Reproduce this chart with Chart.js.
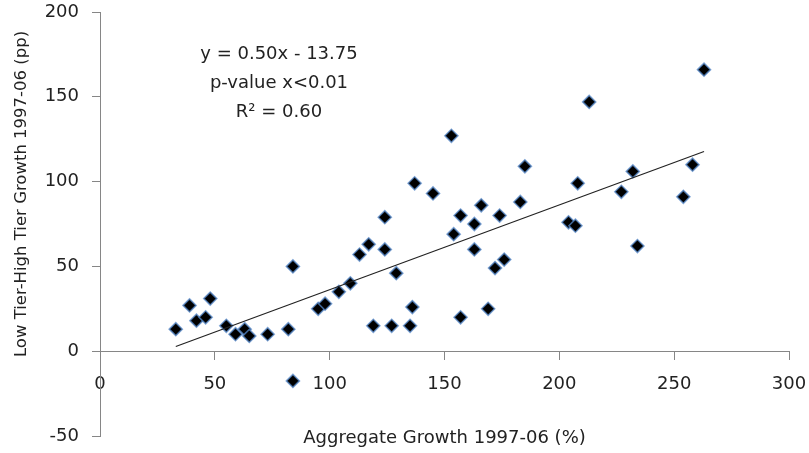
<!DOCTYPE html>
<html><head><meta charset="utf-8">
<script src="https://cdn.jsdelivr.net/npm/chart.js@4/dist/chart.umd.min.js"></script>
<style>html,body{margin:0;padding:0;background:#fff}#wrap{width:809px;height:453px;position:relative}</style>
</head><body><div id="wrap"><canvas id="c"></canvas></div>
<script>
// Aggregate growth 1997-06 (%) for each observation
const aggregateGrowth = [33, 39, 42, 46, 48, 55, 59, 63, 65, 73, 82, 84, 84, 95, 98, 104, 109, 113, 117, 119, 124, 124, 127, 129, 135, 136, 137, 145, 153, 154, 157, 157, 163, 163, 166, 169, 172, 174, 176, 183, 185, 204, 207, 208, 213, 227, 232, 234, 254, 258, 263];
// Low tier - high tier growth 1997-06 (pp)
const tierGap = [13, 27, 18, 20, 31, 15, 10, 13, 9, 10, 13, 50, -17.5, 25, 28, 35, 40, 57, 63, 15, 79, 60, 15, 46, 15, 26, 99, 93, 127, 69, 80, 20, 75, 60, 86, 25, 49, 80, 54, 88, 109, 76, 74, 99, 147, 94, 106, 62, 91, 110, 166];
const xTickValues = [0, 50, 100, 150, 200, 250, 300];
const yTickValues = [-50, 0, 50, 100, 150, 200];
const trendSlope = 0.50;
const trendIntercept = -13.75;
const annotationLines = ['y = 0.50x - 13.75', 'p-value x<0.01', 'R\u00B2 = 0.60'];
const xTitle = 'Aggregate Growth 1997-06 (%)';
const yTitle = 'Low Tier-High Tier Growth 1997-06 (pp)';

const FONT = 'DejaVu Sans';
const TEXT = '#222';
const AXIS = '#868686';

const points = aggregateGrowth.map((x, i) => ({x: x, y: tierGap[i]}));
const xMinData = Math.min(...aggregateGrowth), xMaxData = Math.max(...aggregateGrowth);
const trend = [xMinData, xMaxData].map(x => ({x: x, y: trendSlope * x + trendIntercept}));

const textPlugin = {
  id: 'texts',
  afterDraw(chart) {
    const ctx = chart.ctx, a = chart.chartArea;
    ctx.save();
    ctx.fillStyle = TEXT;
    ctx.textAlign = 'center';
    ctx.textBaseline = 'middle';
    ctx.font = '18px "' + FONT + '"';
    annotationLines.forEach((t, i) => ctx.fillText(t, 279, 54 + i * 29));
    ctx.fillText(xTitle, (a.left + a.right) / 2, 438);
    ctx.translate(22, 194);
    ctx.rotate(-Math.PI / 2);
    ctx.font = '16.5px "' + FONT + '"';
    ctx.fillText(yTitle, 0, 0);
    ctx.restore();
  }
};

function zeroPad(s) { s.paddingTop = 0; s.paddingBottom = 0; s.paddingLeft = 0; s.paddingRight = 0; }

new Chart(document.getElementById('c'), {
  type: 'scatter',
  data: {
    datasets: [
      {
        type: 'line', data: trend, borderColor: '#222', borderWidth: 1.2,
        pointRadius: 0, fill: false, order: 0
      },
      {
        data: points, pointStyle: 'rectRot', pointRadius: 6.5,
        backgroundColor: '#000', borderColor: 'rgba(84,135,200,0.75)', borderWidth: 1.6,
        order: 1
      }
    ]
  },
  options: {
    responsive: true, maintainAspectRatio: false, animation: false, devicePixelRatio: 1,
    layout: {autoPadding: false, padding: {top: 12, right: 20, bottom: 17, left: 0}},
    plugins: {legend: {display: false}, tooltip: {enabled: false}},
    scales: {
      x: {
        type: 'linear', min: 0, max: 300, position: {y: 0},
        afterFit: s => { s.height = 17; zeroPad(s); },
        afterBuildTicks: s => { s.ticks = xTickValues.map(v => ({value: v})); },
        ticks: {font: {family: FONT, size: 18}, color: TEXT, padding: 14, maxRotation: 0},
        grid: {drawOnChartArea: false, drawTicks: true, tickLength: 8, color: AXIS},
        border: {color: AXIS, width: 1}
      },
      y: {
        type: 'linear', min: -50, max: 200, position: 'left',
        afterFit: s => { s.width = 100; zeroPad(s); },
        afterBuildTicks: s => { s.ticks = yTickValues.map(v => ({value: v})); },
        ticks: {font: {family: FONT, size: 18}, color: TEXT, padding: 13},
        grid: {drawOnChartArea: false, drawTicks: true, tickLength: 8, color: AXIS},
        border: {color: AXIS, width: 1}
      }
    }
  },
  plugins: [textPlugin]
});
</script>
</body></html>
